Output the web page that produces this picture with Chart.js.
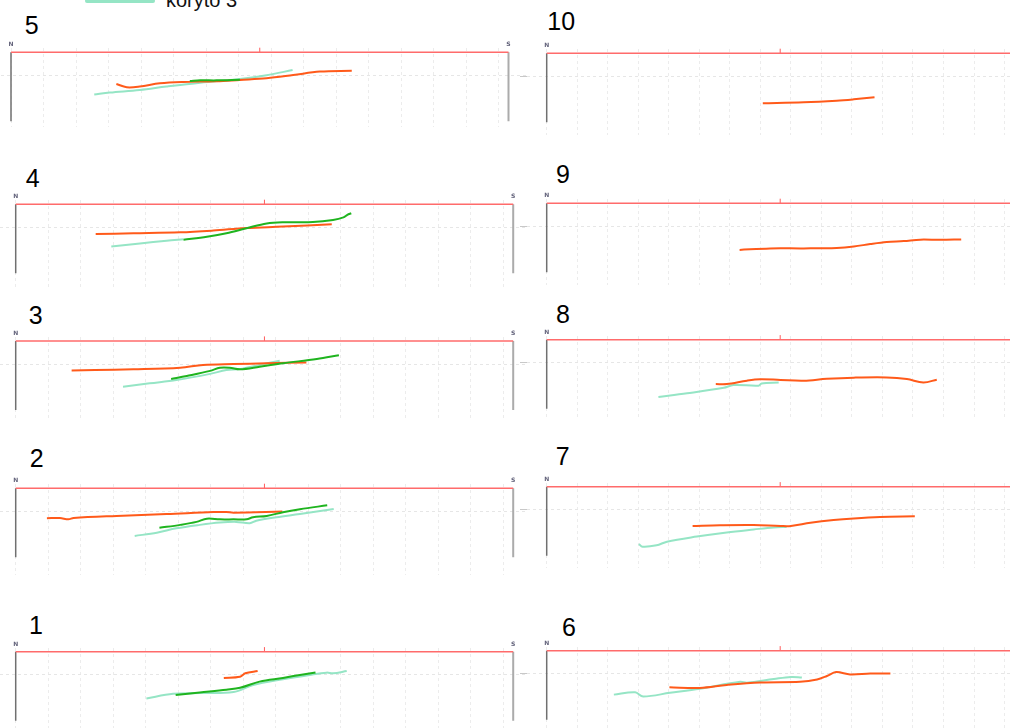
<!DOCTYPE html>
<html lang="sk">
<head>
    <meta charset="UTF-8">
    <title>Priečne profily koryta</title>
    <script src="https://cdn.jsdelivr.net/npm/chart.js"></script>
    <style>
        body {
            margin: 0;
            background: #fff;
            width: 1010px;
            height: 728px;
            overflow: hidden;
            position: relative;
            font-family: 'Liberation Sans', Arial, sans-serif;
        }
        canvas { position: absolute; }
        .num {
            position: absolute;
            font-size: 25px;
            line-height: 25px;
            color: #000;
        }
        .legend-line {
            position: absolute;
            left: 85px;
            top: -1px;
            width: 70px;
            height: 4px;
            border-radius: 2px;
            background: #95e5c5;
        }
        .legend-text {
            position: absolute;
            left: 166px;
            top: -10px;
            font-size: 20px;
            line-height: 20px;
            color: #111;
        }
    </style>
</head>
<body>
    <div class="legend-line"></div>
    <div class="legend-text">koryto 3</div>

    <script>
        // profile geometry (metres)
        const sectionLength = 76.5;
        const gridStepX = 5;
        const gridY = [-1];
        const bankDepth = -3;
        const bankNames = ['N', 'S'];

        // profile 5
        const p5_k1 = [[16.2,-1.38],[17.8,-1.52],[19.8,-1.49],[22.9,-1.35],[26.5,-1.29],[31.6,-1.26],[35.2,-1.20],[39.3,-1.13],[43.4,-0.99],[47.5,-0.84],[52.4,-0.80]];
        const p5_k2 = [[27.5,-1.25],[29.1,-1.22],[31.6,-1.22],[35.2,-1.19]];
        const p5_k3 = [[12.8,-1.83],[15.2,-1.75],[19.8,-1.64],[23.9,-1.49],[29.1,-1.32],[35.2,-1.16],[39.3,-1.00],[43.3,-0.77]];
        // profile 4
        const p4_k1 = [[12.3,-1.29],[18.1,-1.26],[25.3,-1.22],[30.4,-1.14],[35.5,-1.03],[41.1,-0.97],[48.6,-0.87]];
        const p4_k2 = [[25.8,-1.54],[29.4,-1.41],[32.4,-1.26],[35.5,-1.04],[38.6,-0.83],[41.6,-0.78],[45.7,-0.77],[48.8,-0.68],[50.4,-0.57],[51.0,-0.46],[51.6,-0.39]];
        const p4_k3 = [[14.7,-1.83],[19.1,-1.70],[23.2,-1.58],[25.8,-1.52]];
        // profile 3
        const p3_k1 = [[8.6,-1.28],[12.2,-1.26],[18.1,-1.23],[25.3,-1.16],[28.8,-1.04],[33.5,-1.00],[38.6,-0.97],[44.7,-0.93]];
        const p3_k2 = [[23.9,-1.65],[26.3,-1.52],[29.9,-1.30],[31.4,-1.16],[32.9,-1.16],[34.5,-1.23],[37.5,-1.12],[41.1,-0.97],[46.3,-0.78],[49.7,-0.62]];
        const p3_k3 = [[16.5,-1.99],[20.6,-1.84],[24.7,-1.70],[29.9,-1.43],[32.4,-1.26],[34.5,-1.22],[37.5,-1.04],[40.6,-0.86]];
        // profile 2
        const p2_k1 = [[4.8,-1.30],[6.8,-1.29],[8.1,-1.35],[8.9,-1.29],[15.5,-1.20],[23.2,-1.12],[30.4,-1.03],[32.4,-1.03],[33.5,-1.06],[41.0,-1.01]];
        const p2_k2 = [[22.1,-1.72],[25.3,-1.59],[27.8,-1.46],[29.4,-1.32],[31.4,-1.35],[33.5,-1.35],[35.5,-1.35],[36.5,-1.26],[38.6,-1.20],[41.1,-1.04],[43.7,-0.91],[47.9,-0.74]];
        const p2_k3 = [[18.3,-2.07],[21.7,-1.93],[24.7,-1.74],[28.3,-1.59],[31.4,-1.49],[33.9,-1.46],[36.0,-1.52],[37.0,-1.41],[40.1,-1.26],[43.7,-1.12],[48.9,-0.90]];
        // profile 1
        const p1_k1 = [[32.0,-1.14],[34.5,-1.09],[35.3,-0.94],[37.2,-0.84]];
        const p1_k2 = [[24.6,-1.88],[28.3,-1.77],[32.4,-1.65],[34.5,-1.57],[37.5,-1.30],[41.1,-1.14],[43.7,-1.01],[46.1,-0.90]];
        const p1_k3 = [[20.1,-2.03],[24.2,-1.83],[28.3,-1.80],[33.5,-1.75],[36.5,-1.45],[41.1,-1.20],[45.2,-1.01],[47.8,-0.91],[48.8,-0.94],[50.9,-0.84]];
        // profile 10
        const p10_k1 = [[35.4,-2.17],[42.1,-2.13],[47.5,-2.06],[50.3,-2.00],[53.7,-1.91]];
        // profile 9
        const p9_k1 = [[31.6,-2.03],[36.6,-1.96],[42.1,-1.96],[47.5,-1.94],[50.3,-1.88],[53.0,-1.77],[55.7,-1.68],[58.5,-1.64],[61.2,-1.58],[64.5,-1.59],[67.9,-1.57]];
        // profile 8
        const p8_k1 = [[27.7,-1.93],[29.5,-1.93],[32.8,-1.78],[35.0,-1.72],[38.3,-1.75],[42.1,-1.78],[45.9,-1.70],[50.3,-1.65],[55.7,-1.64],[59.0,-1.71],[61.7,-1.86],[63.9,-1.74]];
        const p8_k3 = [[18.3,-2.49],[23.0,-2.33],[29.0,-2.09],[30.6,-1.97],[34.7,-2.00],[35.2,-1.90],[38.0,-1.86]];
        // profile 7
        const p7_k1 = [[23.9,-1.71],[28.4,-1.68],[33.9,-1.67],[38.3,-1.71],[40.0,-1.71],[43.2,-1.57],[47.0,-1.45],[50.3,-1.38],[54.6,-1.32],[60.3,-1.29]];
        const p7_k3 = [[15.1,-2.49],[15.7,-2.61],[18.0,-2.55],[19.7,-2.39],[24.6,-2.17],[29.5,-1.99],[33.9,-1.86],[37.2,-1.77],[39.3,-1.75]];
        // profile 6
        const p6_k1 = [[20.1,-1.59],[25.1,-1.62],[29.5,-1.49],[35.0,-1.38],[41.5,-1.35],[44.3,-1.25],[45.9,-1.10],[47.4,-0.93],[49.7,-1.03],[53.0,-0.99],[56.3,-0.99]];
        const p6_k3 = [[11.0,-1.91],[14.5,-1.81],[15.8,-1.99],[20.2,-1.83],[25.1,-1.65],[31.7,-1.35],[32.8,-1.39],[37.2,-1.23],[40.0,-1.14],[41.8,-1.16]];

        const profiles = {
            5: { k1: p5_k1, k2: p5_k2, k3: p5_k3 },
            4: { k1: p4_k1, k2: p4_k2, k3: p4_k3 },
            3: { k1: p3_k1, k2: p3_k2, k3: p3_k3 },
            2: { k1: p2_k1, k2: p2_k2, k3: p2_k3 },
            1: { k1: p1_k1, k2: p1_k2, k3: p1_k3 },
            10: { k1: p10_k1 },
            9: { k1: p9_k1 },
            8: { k1: p8_k1, k3: p8_k3 },
            7: { k1: p7_k1, k3: p7_k3 },
            6: { k1: p6_k1, k3: p6_k3 }
        };

        // series styles, first one is drawn on top
        const series = [
            { key: 'k2', label: 'koryto 2', color: '#1fb41f' },
            { key: 'k1', label: 'koryto 1', color: '#ff5a1a' },
            { key: 'k3', label: 'koryto 3', color: '#95e5c5' }
        ];

        // page placement of each panel (pixels)
        const panels = [
            { id: 5,  col: 0, nX: 11,    redY: 52.3,  bottom: 127, numX: 26,    numY: 16.7 },
            { id: 4,  col: 0, nX: 15.7,  redY: 204.3, bottom: 289, numX: 27,    numY: 169.3 },
            { id: 3,  col: 0, nX: 15.7,  redY: 341,   bottom: 420, numX: 30,    numY: 306.7 },
            { id: 2,  col: 0, nX: 15.7,  redY: 488.3, bottom: 575, numX: 31,    numY: 449.3 },
            { id: 1,  col: 0, nX: 15.7,  redY: 651.7, bottom: 728, numX: 31.7,  numY: 616.7 },
            { id: 10, col: 1, nX: 546.7, redY: 53.3,  bottom: 135, numX: 550,   numY: 12 },
            { id: 9,  col: 1, nX: 546.7, redY: 203.3, bottom: 285, numX: 557.3, numY: 165 },
            { id: 8,  col: 1, nX: 546.7, redY: 339.7, bottom: 418, numX: 557.3, numY: 305 },
            { id: 7,  col: 1, nX: 546.7, redY: 486.7, bottom: 568, numX: 557,   numY: 447.3 },
            { id: 6,  col: 1, nX: 546.7, redY: 650.7, bottom: 728, numX: 563.3, numY: 618.3 }
        ];
        const pxPerM = [497.5 / sectionLength, 467 / sectionLength];
        const pxPerMY = 23;

        const pts = arr => arr.map(p => ({ x: p[0], y: p[1] }));

        const bankLabels = {
            id: 'bankLabels',
            afterDatasetsDraw(chart) {
                const { ctx, scales: { x, y } } = chart;
                ctx.save();
                ctx.font = 'bold 6px "DejaVu Sans", sans-serif';
                ctx.fillStyle = '#62627a';
                ctx.textAlign = 'center';
                const yy = y.getPixelForValue(0) - 6;
                ctx.fillText(bankNames[0], x.getPixelForValue(0), yy);
                ctx.fillText(bankNames[1], x.getPixelForValue(sectionLength), yy);
                ctx.restore();
            }
        };

        panels.forEach(p => {
            const left = p.col === 0;
            const ppm = pxPerM[p.col];
            const axisW = left ? 0 : 7;
            const chartLeft = left ? Math.round(p.nX - 16) : 527;
            const chartRight = left ? 526 : 1010;
            const canvasLeft = chartLeft - axisW;
            const padTop = 14;
            const canvasTop = Math.round(p.redY - 4) - padTop;
            const chartTop = canvasTop + padTop;
            const w = chartRight - canvasLeft;
            const h = p.bottom - canvasTop;

            const num = document.createElement('div');
            num.className = 'num';
            num.textContent = p.id;
            const bearing = String(p.id).startsWith('1') ? 2.7 : 1.3;
            num.style.left = (p.numX - bearing) + 'px';
            num.style.top = (p.numY - 3.3) + 'px';
            document.body.appendChild(num);

            const canvas = document.createElement('canvas');
            canvas.width = w;
            canvas.height = h;
            canvas.style.left = canvasLeft + 'px';
            canvas.style.top = canvasTop + 'px';
            canvas.style.width = w + 'px';
            canvas.style.height = h + 'px';
            document.body.appendChild(canvas);

            const datasets = [];
            series.forEach(s => {
                const d = profiles[p.id][s.key];
                if (!d) return;
                datasets.push({
                    label: s.label,
                    data: pts(d),
                    borderColor: s.color,
                    borderWidth: 2,
                    pointRadius: 0,
                    tension: 0.35
                });
            });
            // reference line, banks and centre mark
            datasets.push({
                data: pts([[0, 0], [sectionLength, 0]]),
                borderColor: '#ff6b6b', borderWidth: 1.5, pointRadius: 0
            });
            datasets.push({
                data: pts([[0, 0], [0, bankDepth]]),
                borderColor: '#707070', borderWidth: 1.5, pointRadius: 0
            });
            datasets.push({
                data: pts([[sectionLength, 0], [sectionLength, bankDepth]]),
                borderColor: '#ababab', borderWidth: 2, pointRadius: 0
            });
            datasets.push({
                data: pts([[sectionLength / 2, 0], [sectionLength / 2, 0.2]]),
                borderColor: '#ff5c5c', borderWidth: 1, pointRadius: 0, clip: 8
            });

            new Chart(canvas, {
                type: 'line',
                data: { datasets },
                options: {
                    responsive: false,
                    animation: false,
                    events: [],
                    layout: { padding: { top: padTop, left: 0, right: 0, bottom: 0 } },
                    plugins: { legend: { display: false }, tooltip: { enabled: false } },
                    scales: {
                        x: {
                            type: 'linear',
                            min: (chartLeft - p.nX) / ppm,
                            max: (chartRight - p.nX) / ppm,
                            afterBuildTicks: axis => {
                                const t = [];
                                for (let v = 0; v <= sectionLength; v += gridStepX) t.push({ value: v });
                                axis.ticks = t;
                            },
                            ticks: { display: false },
                            border: { display: false, dash: [3, 3] },
                            grid: { color: '#ececec', drawTicks: false }
                        },
                        y: {
                            type: 'linear',
                            min: -(p.bottom - p.redY) / pxPerMY,
                            max: (p.redY - chartTop) / pxPerMY,
                            afterBuildTicks: axis => { axis.ticks = gridY.map(v => ({ value: v })); },
                            ticks: { display: false },
                            border: { display: false, dash: [3, 3] },
                            grid: {
                                color: '#e6e6e6',
                                drawTicks: !left, tickLength: 7, tickColor: '#c8c8c8'
                            }
                        }
                    }
                },
                plugins: [bankLabels]
            });
        });
    </script>
</body>
</html>
